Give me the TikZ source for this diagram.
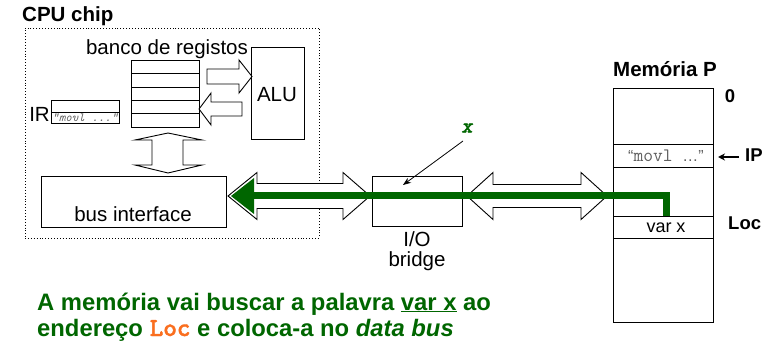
\documentclass[tikz,border=0pt]{standalone}
\usepackage{fontspec}
\setmainfont{Liberation Sans}
\newfontfamily\monobold[FakeBold=1.5,ItalicFont=lmmonolt10-boldoblique.otf]{lmmonolt10-bold.otf}
\usetikzlibrary{fit,arrows.meta}
\definecolor{busgreen}{RGB}{0,102,0}
\definecolor{locorange}{RGB}{250,110,30}
\definecolor{codegray}{RGB}{95,95,95}

\begin{document}
\begin{tikzpicture}[x=1pt,y=-1pt,
  box/.style={draw, line width=0.9pt, inner sep=0pt},
  blockarrow/.style={draw, line width=0.9pt, fill=white, line join=miter},
  lbl/.style={font=\fontsize{20.5}{22}\selectfont, inner sep=0pt},
  blbl/.style={font=\fontsize{20.5}{22}\selectfont\bfseries, inner sep=0pt},
  sblbl/.style={font=\fontsize{18.5}{20}\selectfont\bfseries, inner sep=0pt},
  caption/.style={inner sep=0pt, text=busgreen, font=\fontsize{23.8}{26}\selectfont\bfseries},
  greenbus/.style={busgreen, line width=7pt, line join=miter},
  thinarrow/.style={line width=0.8pt, -{Stealth[length=8pt,width=6pt]}}]

\fill[white] (0,0) rectangle (776,347);
\useasboundingbox (0,0) rectangle (776,347);

% ---------- CPU chip ----------
\node[box, dotted, line width=0.8pt, fit={(25,28) (319,238)}] (cpu) {};
\node[blbl, anchor=base west] (cpulbl) at (22,22) {CPU chip};

% register file
\node[lbl, anchor=base] (regslbl) at (167,55) {banco de registos};
\node[box, fit={(131,60) (199,127)}] (regs) {};
\foreach \yy in {73,87,100,113}
  \draw[line width=0.9pt] (131,\yy) -- (199,\yy);

% ALU
\node[box, fit={(251,47) (304,139)}] (alu) {};
\node[lbl] (alulbl) at (277,95) {ALU};

% register file <-> ALU
\draw[blockarrow] (207,69) -- (239,69) -- (239,60) -- (252,76.5) -- (239,93)
  -- (239,84) -- (207,84) -- cycle;
\draw[blockarrow] (242,102) -- (211,102) -- (211,93) -- (199,109) -- (211,125)
  -- (211,116) -- (242,116) -- cycle;

% instruction register
\node[box, fit={(51,100) (119,123)}] (ir) {};
\draw[line width=0.9pt] (51,112) -- (119,112);
\node[lbl, anchor=base east] (irlbl) at (50,122) {IR};
\node[anchor=base west, inner sep=0pt, text=codegray,
  font=\fontsize{12.5}{13}\ttfamily\itshape] (irtxt) at (52,121.5) {“movl ...”};

% register file <-> bus interface
\draw[blockarrow] (168,133) -- (202,140) -- (183,140) -- (183,165) -- (202,165)
  -- (168,173) -- (135,165) -- (152,165) -- (152,140) -- (135,140) -- cycle;

% bus interface
\node[box, fit={(41,176) (226,227)}] (busif) {};
\node[lbl, anchor=base] (busiflbl) at (133,222) {bus interface};

% ---------- I/O bridge ----------
\node[box, fit={(372,176) (462,226)}] (bridge) {};
\node[lbl, anchor=base] (iolbl) at (417,247) {I/O};
\node[lbl, anchor=base] (bridgelbl) at (417,267) {bridge};

% system bus and memory bus
\draw[blockarrow] (228,196) -- (257,172.5) -- (257,183.5) -- (343,183.5) -- (343,172.5)
  -- (370,196) -- (343,219.5) -- (343,208.5) -- (257,208.5) -- (257,219.5) -- cycle;
\draw[blockarrow] (467,196) -- (493,172.5) -- (493,184.5) -- (581,184.5) -- (581,172.5)
  -- (607,196) -- (581,219.5) -- (581,207.5) -- (493,207.5) -- (493,219.5) -- cycle;

% ---------- main memory ----------
\node[box, fit={(613,88) (713,322)}] (mem) {};
\foreach \yy in {144,167,216,238}
  \draw[line width=0.9pt] (613,\yy) -- (713,\yy);
\node[blbl, anchor=base] (memlbl) at (665,77) {Memória P};
\node[sblbl, anchor=base] (zero) at (730,103) {0};
\node[anchor=base, inner sep=0pt, text=codegray, font=\fontsize{16}{18}\selectfont]
  (memtxt) at (666,162) {“{\fontsize{19}{20}\ttfamily movl }…”};
\node[inner sep=0pt, font=\fontsize{18}{19}\selectfont, anchor=base] (varx) at (666,233) {var x};
\node[sblbl, anchor=base west] (ip) at (745,162) {IP};
\coordinate (iptip) at (718,157);
\coordinate (iptail) at (739,157);
\draw[line width=1.2pt, -{Stealth[length=7pt,width=7pt]}] (iptail) -- (iptip);
\node[sblbl, anchor=base west] (loc) at (728,230) {Loc};

% ---------- data word travelling on the bus ----------
\coordinate (wordtop) at (666,216);
\coordinate (buscorner) at (666,196);
\coordinate (headbase) at (254,196);
\draw[greenbus] (headbase) -- (buscorner) -- (wordtop);
\fill[busgreen] (231,196) -- (254,178) -- (254,214) -- cycle;

\node[inner sep=0pt, text=busgreen, font=\fontsize{21}{22}\monobold\itshape]
  (xlbl) at (467,128) {x};
\coordinate (xfrom) at (463,141);
\coordinate (xto) at (403,185);
\draw[thinarrow] (xfrom) -- (xto);

% ---------- caption ----------
\node[caption, anchor=base west] (cap1) at (37,310)
  {A memória vai buscar a palavra \underline{var x} ao};
\node[caption, anchor=base west] (cap2) at (37,336)
  {endereço {\fontsize{26}{27}\monobold\color{locorange}Loc} e coloca-a no \textit{data bus}};

\end{tikzpicture}
\end{document}
